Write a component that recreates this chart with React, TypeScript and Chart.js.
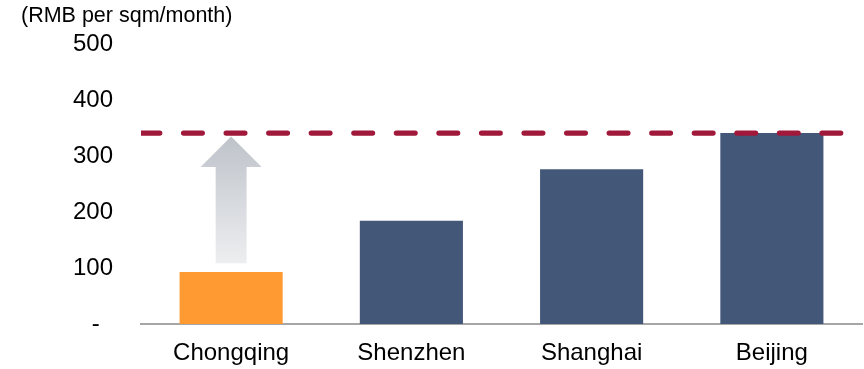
import { useEffect, useRef } from 'react';
import { Chart, registerables } from 'chart.js';

Chart.register(...registerables);

const cities = ['Chongqing', 'Shenzhen', 'Shanghai', 'Beijing'];
const rents = [93, 185, 277, 342];
const barColors = ['#FF9A33', '#435779', '#435779', '#435779'];
const yTicks = [0, 100, 200, 300, 400, 500];
const benchmark = 342;
// upward arrow over Chongqing: shaft foot, head base, tip (RMB)
const arrowLevels = [109, 281, 336];
const unitLabel = '(RMB per sqm/month)';

const FONT = "'Liberation Sans', Arial, sans-serif";

const overlay = {
  id: 'overlay',
  afterDatasetsDraw(chart: any) {
    const { ctx, chartArea, scales } = chart;
    const y = scales.y;
    const bar = chart.getDatasetMeta(0).data[0] as any;
    const cx = bar.x;
    const bw = bar.width;
    const [foot, base, tip] = arrowLevels.map((v) => y.getPixelForValue(v));
    const headHalf = bw * 0.296;
    const shaftHalf = bw * 0.15;

    ctx.save();
    const grad = ctx.createLinearGradient(0, tip, 0, foot);
    grad.addColorStop(0, '#BEC3CA');
    grad.addColorStop(1, '#EDEEF0');
    ctx.fillStyle = grad;
    ctx.beginPath();
    ctx.moveTo(cx, tip);
    ctx.lineTo(cx + headHalf, base);
    ctx.lineTo(cx + shaftHalf, base);
    ctx.lineTo(cx + shaftHalf, foot);
    ctx.lineTo(cx - shaftHalf, foot);
    ctx.lineTo(cx - shaftHalf, base);
    ctx.lineTo(cx - headHalf, base);
    ctx.closePath();
    ctx.fill();

    // benchmark line, clipped to the plot area
    const by = y.getPixelForValue(benchmark);
    ctx.beginPath();
    ctx.rect(chartArea.left, chartArea.top - 10, chartArea.right - chartArea.left, chartArea.bottom - chartArea.top + 20);
    ctx.clip();
    ctx.strokeStyle = '#A0183A';
    ctx.lineWidth = 5.2;
    ctx.lineCap = 'round';
    ctx.setLineDash([18.8, 23.76]);
    ctx.beginPath();
    ctx.moveTo(chartArea.left, by);
    ctx.lineTo(chartArea.right, by);
    ctx.stroke();
    ctx.restore();
  },
};

export default function App() {
  const canvasRef = useRef<HTMLCanvasElement | null>(null);

  useEffect(() => {
    if (!canvasRef.current) return;
    const chart = new Chart(canvasRef.current, {
      type: 'bar',
      data: {
        labels: cities,
        datasets: [
          {
            data: rents,
            backgroundColor: barColors,
            borderWidth: 0,
            barPercentage: 0.572,
            categoryPercentage: 1,
          },
        ],
      },
      options: {
        animation: false,
        responsive: true,
        maintainAspectRatio: false,
        layout: { padding: { left: 21, right: 2, top: 0, bottom: 1 } },
        plugins: {
          legend: { display: false },
          tooltip: { enabled: false },
          title: {
            display: true,
            text: unitLabel,
            align: 'start',
            color: '#000',
            font: { family: FONT, size: 21.5, weight: 'normal', lineHeight: 1.2 },
            padding: { top: 3, bottom: 16 },
          },
        },
        scales: {
          x: {
            grid: { display: false, drawTicks: false },
            border: { display: true, color: '#A6A6A6', width: 2 },
            afterFit: (axis: any) => {
              axis.height = 44;
            },
            ticks: {
              color: '#000',
              padding: 15,
              font: { family: FONT, size: 24 },
            },
          },
          y: {
            min: 0,
            max: 500,
            grid: { display: false, drawTicks: false },
            border: { display: false },
            afterBuildTicks: (axis: any) => {
              axis.ticks = yTicks.map((v) => ({ value: v }));
            },
            afterFit: (axis: any) => {
              axis.width = 120;
            },
            ticks: {
              color: '#000',
              padding: 28,
              font: { family: FONT, size: 24 },
              callback: (v: any) => (Number(v) === 0 ? '-  ' : String(v)),
            },
          },
        },
      },
      plugins: [overlay],
    });
    return () => chart.destroy();
  }, []);

  return (
    <div style={{ position: 'absolute', left: 0, top: 0, width: 864, height: 369 }}>
      <canvas ref={canvasRef} />
    </div>
  );
}
